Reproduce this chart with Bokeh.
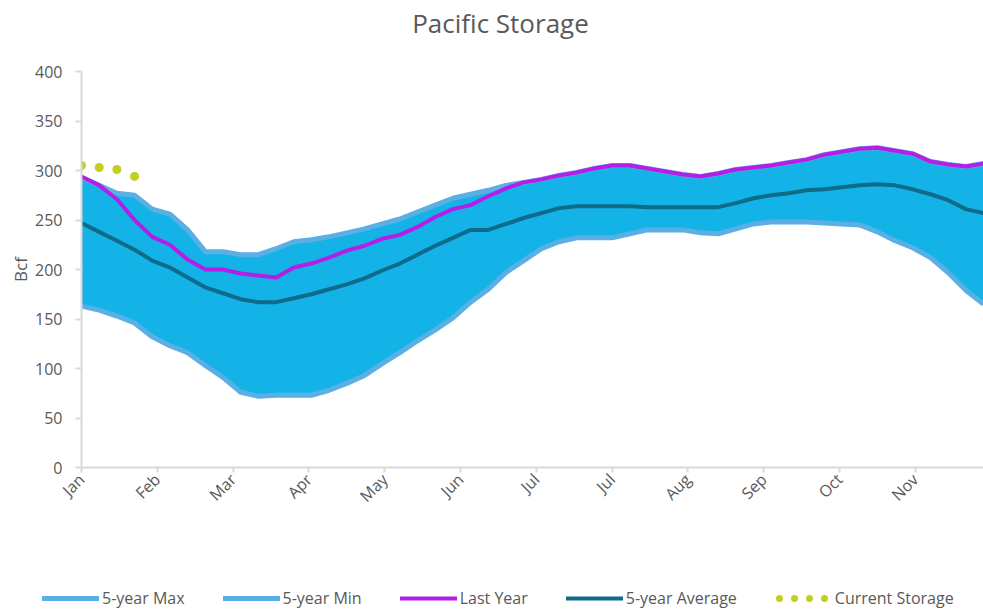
import numpy as np
from bokeh.plotting import figure
from bokeh.layouts import column
from bokeh.models import Range1d, FixedTicker, SingleIntervalTicker, Legend, LegendItem, Label
from bokeh.embed import file_html
from bokeh.resources import INLINE

# ---- data (weekly, Bcf) ----
tick_labels = ["Jan", "Feb", "Mar", "Apr", "May", "Jun", "Jul", "Jul", "Aug", "Sep", "Oct", "Nov"]
tick_days = [0, 30, 60, 90, 120, 150, 180, 210, 240, 270, 300, 330]

five_year_max = [293, 285, 277, 275, 261, 256, 240, 218, 218, 215, 215, 221, 228, 230, 233, 237,
                 241, 246, 251, 258, 265, 272, 276, 280, 285, 288, 291, 295, 298, 302, 305, 305,
                 302, 299, 296, 294, 297, 301, 303, 305, 308, 311, 316, 319, 322, 323, 320, 317,
                 309, 306, 304, 307]
five_year_min = [163, 159, 153, 146, 132, 123, 116, 103, 91, 76, 72, 73, 73, 73, 78, 85,
                 93, 105, 116, 128, 139, 151, 167, 180, 197, 209, 221, 228, 232, 232, 232, 236,
                 240, 240, 240, 237, 236, 241, 246, 248, 248, 248, 247, 246, 245, 238, 229, 222,
                 212, 197, 179, 165]
last_year = [294, 285, 271, 250, 233, 225, 210, 200, 200, 196, 194, 192, 202, 206, 212, 219,
             224, 231, 235, 243, 253, 261, 265, 274, 282, 288, 291, 295, 298, 302, 305, 305,
             302, 299, 296, 294, 297, 301, 303, 305, 308, 311, 316, 319, 322, 323, 320, 317,
             309, 306, 304, 307]
five_year_avg = [247, 238, 229, 220, 209, 202, 192, 182, 176, 170, 167, 167, 171, 175, 180, 185,
                 191, 199, 206, 215, 224, 232, 240, 240, 246, 252, 257, 262, 264, 264, 264, 264,
                 263, 263, 263, 263, 263, 267, 272, 275, 277, 280, 281, 283, 285, 286, 285, 281,
                 276, 270, 261, 257]
current_storage = [305, 303, 301, 294]

days = [7 * i for i in range(len(five_year_max))]
cur_days = [7 * i for i in range(len(current_storage))]

FONT = "Open Sans"
GREY = "#595959"
AXIS = "#d9d9d9"
C_BAND = "#13b3e8"
C_EDGE = "#5aafe4"
C_AVG = "#0e6b8a"
C_LAST = "#b41ee6"
C_CUR = "#c3cf20"

# ---- title strip ----
tf = figure(width=983, height=40, output_backend="svg", toolbar_location=None,
            x_range=Range1d(0, 1), y_range=Range1d(0, 1),
            x_axis_location=None, y_axis_location=None,
            min_border_left=0, min_border_right=0, min_border_top=0, min_border_bottom=0)
tf.frame_align = False
tf.outline_line_color = None
tf.grid.visible = False
tf.add_layout(Label(x=500, y=18, x_units="screen", y_units="screen", text="Pacific Storage",
                    text_align="center", text_baseline="middle", text_font=FONT,
                    text_font_size="26px", text_color=GREY))

# ---- main chart ----
p = figure(width=983, height=540, output_backend="svg", toolbar_location=None,
           x_range=Range1d(0, 357), y_range=Range1d(0, 400),
           min_border_left=81, min_border_right=0, min_border_top=31, min_border_bottom=113)
p.frame_align = False
p.outline_line_color = None
p.xgrid.visible = False
p.ygrid.visible = False
p.title.text = ""
p.title.standoff = 0

p.varea(x=days, y1=five_year_min, y2=five_year_max, fill_color=C_BAND)
p.line(days, five_year_max, line_color=C_EDGE, line_width=5, line_join="round")
p.line(days, five_year_min, line_color=C_EDGE, line_width=5, line_join="round")
p.line(days, five_year_avg, line_color=C_AVG, line_width=4, line_join="round")
p.line(days, last_year, line_color=C_LAST, line_width=4, line_join="round")
p.scatter(cur_days, current_storage, size=9, fill_color=C_CUR, line_color=None)

p.yaxis.ticker = SingleIntervalTicker(interval=50)
p.yaxis.axis_label = "Bcf"
p.yaxis.axis_label_text_font = FONT
p.yaxis.axis_label_text_font_size = "17px"
p.yaxis.axis_label_text_font_style = "normal"
p.yaxis.axis_label_text_color = GREY
p.yaxis.axis_label_standoff = 0
p.yaxis.major_label_standoff = 13
p.yaxis.major_tick_out = 6
p.yaxis.major_tick_in = 0

p.xaxis.ticker = FixedTicker(ticks=tick_days)
p.xaxis.major_label_overrides = {d: l for d, l in zip(tick_days, tick_labels)}
p.xaxis.major_label_orientation = np.pi / 4
p.xaxis.major_tick_out = 5
p.xaxis.major_tick_in = 0
p.xaxis.major_label_standoff = 4

for ax in (p.xaxis, p.yaxis):
    ax.minor_tick_line_color = None
    ax.axis_line_color = AXIS
    ax.axis_line_width = 2
    ax.major_tick_line_color = AXIS
    ax.major_tick_line_width = 2
    ax.major_label_text_font = FONT
    ax.major_label_text_font_size = "16px"
    ax.major_label_text_color = GREY

# ---- legend strip (its series lie off-view; only the legend shows) ----
lg = figure(width=983, height=30, output_backend="svg", toolbar_location=None,
            x_range=Range1d(0, 357), y_range=Range1d(1000, 1001),
            x_axis_location=None, y_axis_location=None,
            min_border_left=0, min_border_right=0, min_border_top=0, min_border_bottom=0)
lg.frame_align = False
lg.outline_line_color = None
lg.grid.visible = False
k_max = lg.line(days, five_year_max, line_color=C_EDGE, line_width=5, line_cap="round")
k_min = lg.line(days, five_year_min, line_color=C_EDGE, line_width=5, line_cap="round")
k_last = lg.line(days, last_year, line_color=C_LAST, line_width=4, line_cap="round")
k_avg = lg.line(days, five_year_avg, line_color=C_AVG, line_width=4, line_cap="round")
k_cur = lg.line(cur_days, current_storage, line_color=C_CUR, line_width=7,
                line_dash="0 15", line_dash_offset=-4, line_cap="round")

legend = Legend(items=[
    LegendItem(label="5-year Max", renderers=[k_max]),
    LegendItem(label="5-year Min", renderers=[k_min]),
    LegendItem(label="Last Year", renderers=[k_last]),
    LegendItem(label="5-year Average", renderers=[k_avg]),
    LegendItem(label="Current Storage", renderers=[k_cur]),
], location=(42, 1), orientation="horizontal")
legend.border_line_color = None
legend.background_fill_alpha = 0
legend.padding = 0
legend.margin = 0
legend.spacing = 38
legend.label_standoff = 3
legend.glyph_width = 57
legend.glyph_height = 12
legend.label_height = 18
legend.label_text_font = FONT
legend.label_text_font_size = "16px"
legend.label_text_color = GREY
lg.add_layout(legend, "center")

layout = column(tf, p, lg, spacing=0)
open("out.html", "w").write(file_html(layout, INLINE))
